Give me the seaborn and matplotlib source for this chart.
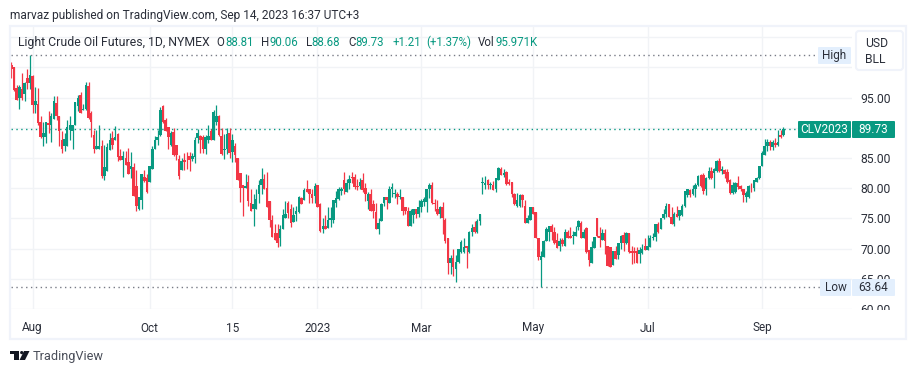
import numpy as np
import pandas as pd
import seaborn as sns
import matplotlib.pyplot as plt
from matplotlib.patches import Rectangle, FancyBboxPatch, Polygon, Circle

# daily candles, first session is late Jul 2022
opens = [100.4,100.0,96.5,94.9,96.4,95.6,98.2,97.4,98.6,93.8,
 94.0,91.0,88.5,88.4,90.8,90.5,91.5,94.1,92.0,88.0,
 87.0,87.0,89.7,89.5,90.5,93.6,95.4,93.0,93.1,96.9,
 92.5,88.8,86.5,86.5,87.0,82.0,82.8,86.3,88.3,87.9,
 89.0,85.3,84.7,85.0,84.3,83.1,83.5,80.4,76.5,78.0,
 81.8,81.7,81.0,83.2,86.5,88.0,88.8,93.6,91.2,90.1,
 87.1,89.3,87.2,84.9,83.0,84.6,85.2,85.4,84.9,85.1,
 88.3,88.6,88.5,86.4,88.0,89.5,87.9,91.0,92.0,88.7,
 86.3,86.4,89.1,86.0,87.0,85.0,82.5,80.5,80.0,81.0,
 77.6,76.5,76.5,79.0,80.6,81.5,80.0,77.9,74.7,72.6,
 72.6,71.7,73.2,75.1,77.5,76.6,74.4,75.7,76.0,78.4,
 78.1,79.9,79.9,79.0,78.7,80.6,77.3,73.2,73.8,73.4,
 74.8,74.7,77.6,78.2,79.6,81.4,79.3,80.8,81.9,81.8,
 80.4,80.4,81.3,80.0,77.8,79.1,77.3,76.0,73.3,74.5,
 77.5,78.6,77.6,79.9,79.1,79.0,78.6,78.5,76.8,76.2,
 73.8,75.5,76.5,75.7,76.8,77.7,77.7,79.8,80.6,77.6,
 76.6,75.7,76.9,74.8,71.7,67.6,68.5,66.7,67.8,69.5,
 69.5,70.4,69.4,72.8,73.6,72.8,74.5,80.9,80.6,81.3,
 80.6,80.5,79.8,81.4,83.2,82.1,82.6,81.1,81.1,79.1,
 77.1,77.1,78.8,77.1,74.3,74.8,76.8,76.1,71.7,68.1,
 68.6,71.3,72.7,73.8,72.8,71.5,70.5,71.4,70.5,72.8,
 72.1,72.0,72.0,73.6,74.3,71.8,73.4,69.7,67.6,70.1,
 75.1,72.0,71.5,72.5,70.4,70.3,67.3,69.6,68.9,70.9,
 72.2,70.9,72.5,69.6,69.6,69.6,69.1,69.2,70.5,69.8,
 70.3,71.7,71.9,74.1,73.2,75.0,75.8,77.3,75.2,74.0,
 75.8,75.4,75.5,77.0,78.8,79.7,79.1,79.8,80.6,82.1,
 82.1,79.8,81.7,82.9,82.5,82.8,84.5,82.8,83.0,82.6,
 81.4,79.2,79.4,80.9,80.3,79.8,78.6,78.6,80.2,80.0,
 81.1,81.7,83.6,85.5,86.9,87.7,86.8,87.5,87.2,88.8,88.81]
closes = [99.8,96.3,94.6,96.7,94.9,97.4,97.4,98.7,93.8,94.5,
 90.7,88.5,89.2,90.9,90.5,92.0,94.5,92.0,89.4,86.5,
 88.2,90.1,90.5,90.5,94.3,94.9,92.4,93.1,97.1,91.6,
 91.0,86.5,87.0,87.0,82.0,83.5,86.8,87.9,87.2,88.5,
 85.1,84.7,85.4,83.9,82.4,83.6,78.7,77.0,78.6,82.3,
 81.2,79.4,83.7,86.5,87.9,88.5,92.9,91.0,89.4,88.4,
 89.1,85.5,85.5,82.0,84.5,84.3,85.1,84.6,85.3,88.0,
 89.1,88.0,86.5,88.5,88.6,88.0,92.6,91.9,88.8,85.7,
 86.5,89.0,85.9,88.0,85.5,81.3,80.0,80.0,80.4,77.9,
 76.2,77.3,78.2,80.6,81.5,79.9,76.8,74.7,71.9,71.4,
 71.0,73.3,75.5,75.7,75.9,74.3,75.6,76.3,78.5,77.4,
 79.7,79.4,79.0,78.3,80.4,76.8,72.9,73.8,73.3,74.7,
 75.1,78.0,78.4,79.9,79.8,79.8,80.8,81.5,81.6,80.2,
 80.2,81.1,79.7,79.0,79.0,76.3,76.2,73.3,74.2,77.3,
 78.6,78.0,79.8,80.2,79.2,78.5,78.7,76.2,76.3,73.8,
 76.2,76.5,75.7,76.9,77.9,78.2,79.9,80.6,77.6,77.3,
 75.7,76.8,75.0,71.3,67.6,68.4,67.0,67.8,69.9,71.1,
 70.3,70.1,72.8,73.4,72.8,74.6,75.8,81.0,80.9,80.6,
 80.7,79.7,81.6,83.4,82.1,82.5,80.7,80.7,79.0,77.3,
 78.0,78.8,78.0,74.2,75.0,76.8,75.8,71.7,68.6,68.7,
 71.3,73.2,73.8,72.8,70.9,70.1,71.2,70.7,72.8,71.8,
 71.8,72.2,72.8,74.5,71.8,72.7,69.5,68.1,70.3,71.9,
 72.0,71.8,72.6,71.3,67.1,67.0,69.6,68.2,71.0,72.1,
 71.0,72.5,69.5,69.2,69.2,67.6,69.7,69.9,69.8,70.4,
 71.8,71.9,74.0,72.8,75.0,75.8,77.1,75.3,74.0,75.8,
 75.2,76.4,77.1,79.5,79.8,78.8,79.9,80.6,82.0,80.3,
 79.5,81.7,82.9,81.7,83.1,84.5,82.8,83.2,82.3,81.0,
 79.2,80.6,80.8,80.2,79.8,78.8,79.2,80.4,80.15,81.3,
 81.7,83.7,85.8,86.9,87.7,86.9,87.6,87.2,87.6,88.5,89.73]
highs = [100.8,100.0,97.0,97.1,99.1,97.5,99.8,102.0,98.7,96.7,
 96.5,92.0,90.9,91.0,92.8,92.4,95.2,95.2,92.0,89.4,
 89.1,91.2,91.9,90.5,94.3,95.4,95.9,94.0,97.5,97.6,
 92.8,89.7,89.6,90.5,87.9,87.1,87.5,89.1,89.4,90.3,
 89.1,86.4,86.1,86.2,86.6,86.0,84.2,83.0,78.6,82.4,
 83.0,82.3,83.7,86.9,88.6,89.6,93.5,93.8,91.6,90.1,
 89.4,89.9,87.2,85.5,85.0,85.9,86.0,86.0,85.9,88.5,
 89.8,88.8,88.8,88.8,90.5,89.8,93.0,93.8,92.1,89.9,
 89.0,90.0,89.9,89.0,87.5,85.0,82.5,80.5,82.4,82.1,
 79.9,79.0,79.8,81.3,83.4,82.3,82.7,77.9,75.5,74.0,
 74.0,73.9,76.5,77.8,77.8,77.3,76.8,77.0,78.7,78.6,
 80.1,81.3,79.9,79.8,80.9,80.6,77.6,75.1,75.5,76.8,
 76.8,78.0,79.5,80.2,80.2,82.7,81.5,82.1,82.7,82.4,
 81.5,81.7,82.5,80.9,79.3,79.9,78.1,77.6,75.0,77.6,
 78.6,78.6,80.3,80.9,79.8,79.3,79.8,78.5,76.8,76.8,
 76.6,76.6,76.6,78.0,78.2,78.6,79.9,80.9,81.0,78.2,
 78.1,77.1,77.7,75.0,71.7,69.0,70.0,69.0,69.9,71.4,
 71.7,70.5,72.9,74.0,74.6,74.9,75.8,81.9,82.0,81.5,
 81.0,81.2,81.7,83.5,83.5,83.2,82.8,81.5,81.1,79.2,
 79.2,79.1,79.1,78.0,75.5,76.9,76.9,76.1,71.7,69.6,
 71.4,73.5,73.8,74.0,73.6,72.6,71.8,71.8,73.3,73.1,
 73.6,72.9,73.8,74.8,74.5,73.2,73.6,69.7,71.3,71.9,
 75.1,73.5,73.3,73.3,70.4,70.3,69.6,70.4,71.0,72.2,
 72.8,72.8,72.6,70.4,70.2,70.3,70.2,70.7,71.8,72.3,
 72.3,72.6,74.0,74.4,75.0,76.6,77.5,77.4,76.8,76.0,
 77.0,76.4,77.3,79.5,79.9,79.9,80.6,80.8,82.1,82.3,
 82.5,81.8,83.5,83.5,83.4,84.7,85.0,83.6,83.2,83.1,
 81.5,81.0,81.0,82.0,80.6,79.9,79.5,80.6,80.8,81.4,
 81.8,83.7,86.1,88.1,88.1,88.0,87.9,88.3,89.6,89.6,90.06]
lows = [98.3,96.0,94.6,93.1,94.6,94.5,96.4,96.4,92.5,92.5,
 90.5,88.3,87.0,87.4,89.2,87.7,91.4,91.3,86.9,85.9,
 86.1,87.0,87.9,86.4,90.5,92.7,92.4,93.0,93.0,91.5,
 88.4,85.9,86.5,86.4,81.7,81.3,82.8,86.3,86.4,87.9,
 84.5,84.7,81.8,83.9,82.4,81.7,78.7,76.3,76.4,76.6,
 81.0,79.2,81.0,83.2,86.5,87.2,88.6,90.8,89.4,86.4,
 86.9,85.3,84.7,81.5,83.0,83.0,83.2,82.8,84.5,84.2,
 87.4,85.8,85.8,85.7,87.5,88.0,87.9,90.5,88.7,85.5,
 84.8,85.7,85.0,84.3,84.3,81.3,77.7,75.4,80.0,77.0,
 76.2,73.7,76.5,77.6,79.0,79.8,76.8,73.5,71.9,71.4,
 70.3,70.4,73.2,75.1,75.1,73.5,74.4,74.6,75.9,77.3,
 78.1,79.4,77.5,77.5,77.6,76.8,72.7,72.5,73.3,73.4,
 73.6,74.3,76.8,78.0,78.8,79.0,79.3,79.8,80.9,79.8,
 79.7,79.9,79.4,77.9,76.6,76.2,75.0,73.2,72.4,74.5,
 77.1,76.6,77.6,78.6,78.4,77.3,78.2,75.5,75.7,73.8,
 73.8,74.2,75.1,75.3,76.0,77.0,76.0,78.4,77.3,76.2,
 75.5,75.1,72.4,70.9,65.8,65.8,65.5,64.5,67.6,69.2,
 69.2,66.8,69.2,72.0,72.6,72.6,73.9,79.1,79.8,79.8,
 79.8,79.7,79.3,81.4,82.1,81.9,80.6,80.6,78.6,77.2,
 76.8,76.8,76.8,74.2,74.2,74.7,75.8,71.7,68.1,63.64,
 68.6,71.3,71.3,71.5,70.7,70.1,69.6,70.4,70.4,71.7,
 71.7,70.7,72.0,73.1,71.7,71.8,69.2,67.1,67.6,70.1,
 71.9,70.2,71.5,69.1,67.1,66.9,67.3,68.2,68.2,69.9,
 69.6,70.7,69.2,67.4,67.6,67.6,67.6,69.1,69.8,69.8,
 70.3,71.5,71.3,72.6,73.2,74.9,75.3,75.3,74.0,73.8,
 75.2,74.8,75.4,76.9,78.6,78.6,78.8,78.6,80.4,80.2,
 79.0,78.8,81.5,81.5,80.0,82.6,82.6,82.3,81.7,80.8,
 79.1,79.0,79.2,79.8,79.5,77.7,77.7,78.4,79.3,79.5,
 81.1,81.5,83.6,85.5,86.2,86.3,86.3,86.8,87.0,88.3,88.68]

x_tick_pos = [8, 52, 83, 115, 154, 196, 239, 282]
x_tick_labels = ['Aug', 'Oct', '15', '2023', 'Mar', 'May', 'Jul', 'Sep']
price_ticks = [60, 65, 70, 75, 80, 85, 90, 95, 100, 105]
price_labels = ['60.00', '65.00', '70.00', '75.00', '80.00', '85.00', '', '95.00', '', '']
high_level = 102.0
low_level = 63.64
last_close = 89.73

GREEN = '#089981'
RED = '#f23645'
INK = '#2a2e39'
GRID = '#f1f3f6'
FRAME = '#f0f3fa'
W, H = 916, 374

sns.set_theme(style='white', rc={'axes.edgecolor': 'none', 'grid.color': GRID})
plt.rcParams['font.family'] = ['Roboto', 'DejaVu Sans']

df = pd.DataFrame({'open': opens, 'high': highs, 'low': lows, 'close': closes})
df['idx'] = np.arange(len(df))
df['bottom'] = df[['open', 'close']].min(axis=1)
df['height'] = (df['close'] - df['open']).abs()
df['up'] = df['close'] >= df['open']

fig = plt.figure(figsize=(W / 100, H / 100), dpi=100, facecolor='white')
# pane runs x 10.5-852, y 27-309 in pixels
ax = fig.add_axes([10.5 / W, 1 - 309 / H, (852 - 10.5) / W, (309 - 27) / H])

ax.grid(True, color=GRID, lw=1)
ax.set_axisbelow(True)

ax.axhline(high_level, color='#787b86', lw=1, ls=(0, (1, 2.5)), zorder=1.5)
ax.axhline(low_level, color='#787b86', lw=1, ls=(0, (1, 2.5)), zorder=1.5)
ax.axhline(last_close, color=GREEN, lw=1, ls=(0, (1, 2.5)), zorder=1.5)

for is_up, col in [(True, GREEN), (False, RED)]:
    part = df[df['up'] == is_up]
    ax.vlines(part['idx'], part['low'], part['high'], color=col, lw=0.9, zorder=2)
    sns.barplot(x=part['idx'].values, y=part['height'].values, bottom=part['bottom'].values,
                native_scale=True, color=col, saturation=1, width=0.95, linewidth=0,
                errorbar=None, ax=ax, zorder=3)

ax.set_xlim(-0.3, 315.8)
ax.set_ylim(60.13, 106.67)
ax.set_xticks(x_tick_pos)
ax.set_xticklabels(x_tick_labels, fontsize=8.5, color=INK)
ax.yaxis.tick_right()
ax.set_yticks(price_ticks)
ax.set_yticklabels(price_labels, fontsize=8.7, color=INK)
ax.tick_params(axis='x', length=0, pad=9)
ax.tick_params(axis='y', length=0, pad=6)
ax.set_xlabel('')
ax.set_ylabel('')

# overlay in pixel coordinates for the frame, tags and header
ov = fig.add_axes([0, 0, 1, 1], facecolor='none')
ov.set_xlim(0, W)
ov.set_ylim(H, 0)
ov.axis('off')

ov.add_patch(Rectangle((852, 310), 50, 10, fc='white', ec='none', zorder=1))
ov.add_patch(Rectangle((9.5, 26), 896, 313, fc='none', ec=FRAME, lw=1.6, zorder=1))


def tag(x0, x1, y0, y1, fc, label, col):
    ov.add_patch(FancyBboxPatch((x0 + 1, y0 + 1), x1 - x0 - 2, y1 - y0 - 2, boxstyle='round,pad=1',
                                fc=fc, ec='none', zorder=2))
    ov.text((x0 + x1) / 2, (y0 + y1) / 2, label, color=col, fontsize=8.5, ha='center', va='center',
            zorder=3)


tag(798, 851, 121, 138, GREEN, 'CLV2023', 'white')
tag(852, 895, 121, 138, GREEN, '89.73', 'white')
tag(818, 851, 47, 64, '#e3effd', 'High', INK)
tag(820, 851, 279, 296, '#e3effd', 'Low', INK)
tag(852, 895, 279, 296, '#e3effd', '63.64', INK)

ov.add_patch(FancyBboxPatch((859, 34), 41, 33, boxstyle='round,pad=3', fc='white', ec=FRAME, lw=1.5, zorder=2))
ov.text(865, 43.5, 'USD', color=INK, fontsize=8.7, va='center', zorder=3)
ov.text(865, 59, 'BLL', color=INK, fontsize=8.7, va='center', zorder=3)

ov.text(10, 15, 'marvaz published on TradingView.com, Sep 14, 2023 16:37 UTC+3', color=INK, fontsize=8.6, va='center')
ov.text(18, 42, 'Light Crude Oil Futures, 1D, NYMEX', color=INK, fontsize=8.8, va='center')
legend_bits = [(216.7, 'O', INK), (225, '88.81', GREEN), (261, 'H', INK), (269, '90.06', GREEN),
               (305.7, 'L', INK), (311.7, '88.68', GREEN), (348, 'C', INK), (355.7, '89.73', GREEN),
               (392.7, '+1.21', GREEN), (426, '(+1.37%)', GREEN), (478.3, 'Vol', INK), (495, '95.971K', GREEN)]
for lx, s, c in legend_bits:
    ov.text(lx, 42, s, color=c, fontsize=8.3, va='center')

# TradingView mark and name
ov.add_patch(Polygon([(10, 351), (19.3, 351), (19.3, 360), (14.3, 360), (14.3, 354), (10, 354)], fc='#131722', ec='none'))
ov.add_patch(Circle((21.7, 352.6), 1.6, fc='#131722', ec='none'))
ov.add_patch(Polygon([(24, 351), (29.5, 351), (25, 360), (19.5, 360)], fc='#131722', ec='none'))
ov.text(33, 356.5, 'TradingView', color='#4a4e59', fontsize=9.2, va='center')

fig.savefig('out.png', dpi=100, facecolor='white')
